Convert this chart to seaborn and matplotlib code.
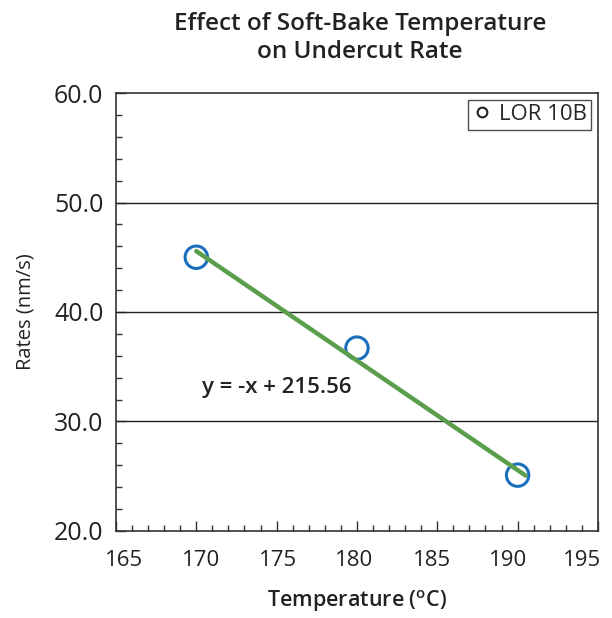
import matplotlib
matplotlib.use("Agg")
import matplotlib.pyplot as plt
import matplotlib.transforms as mtransforms
import seaborn as sns
import numpy as np
import pandas as pd
from matplotlib.ticker import MultipleLocator, FormatStrFormatter
from matplotlib.lines import Line2D

# Data
temperature = [170, 180, 190]
rates = [45.0, 36.7, 25.1]
series_name = "LOR 10B"
slope = -1.0
intercept = 215.56
trend_x = [170, 190.5]
trend_y = [slope * x + intercept for x in trend_x]
equation_label = "y = -x + 215.56"
x_ticks = [165, 170, 175, 180, 185, 190, 195]

sns.set_theme(style="white")
plt.rcParams['font.family'] = ['Open Sans', 'DejaVu Sans']
plt.rcParams['mathtext.default'] = 'regular'

fig = plt.figure(figsize=(6.12, 6.18), dpi=100)
ax = fig.add_axes([0.1895, 0.1408, 0.7875, 0.7087])

df = pd.DataFrame({"Temperature": temperature, "Rate": rates})
tdf = pd.DataFrame({"x": trend_x, "y": trend_y})

for y in [30, 40, 50]:
    ax.axhline(y, color="#222222", lw=1.0, zorder=1)

sns.scatterplot(data=df, x="Temperature", y="Rate", ax=ax, s=260,
                facecolor="none", edgecolor="#1a6fbd", linewidth=2.2, zorder=3, legend=False)
sns.lineplot(data=tdf, x="x", y="y", ax=ax, color="#5a9e4c", lw=3.2, zorder=4)

ax.set_xlim(165, 195)
ax.set_ylim(20, 60)
ax.set_xticks(x_ticks)
ax.xaxis.set_minor_locator(MultipleLocator(1))
ax.yaxis.set_major_locator(MultipleLocator(10))
ax.yaxis.set_minor_locator(MultipleLocator(2))
ax.yaxis.set_major_formatter(FormatStrFormatter("%.1f"))
ax.tick_params(which="both", direction="in", color="#333333", width=1.0,
               bottom=True, left=True, top=False, right=False)
ax.tick_params(which="major", length=7, colors="#333333", labelcolor="#222222")
ax.tick_params(axis="x", which="major", pad=14, labelsize=16)
ax.tick_params(axis="y", which="major", pad=9, labelsize=18)
ax.tick_params(which="minor", length=4)
for s in ax.spines.values():
    s.set_color("#333333")
    s.set_linewidth(1.2)

# slight horizontal shifts of x tick labels as in the reference rendering
label_shift_px = [8, 5, 1, -3, -5, -10, -16]
fig.canvas.draw()
for lab, dx in zip(ax.get_xticklabels(), label_shift_px):
    lab.set_transform(lab.get_transform() + mtransforms.ScaledTranslation(dx / 100, 0, fig.dpi_scale_trans))

ax.set_xlabel(r"Temperature ($^{o}$C)", fontsize=15.5, fontweight="semibold", color="#222222", labelpad=12)
ax.set_ylabel("Rates (nm/s)", fontsize=14.5, color="#222222", labelpad=13)

fig.suptitle("Effect of Soft-Bake Temperature\non Undercut Rate", x=0.588, y=0.98,
             fontsize=17.5, fontweight="semibold", color="#222222", linespacing=1.2)

ax.text(175.0, 33.1, equation_label, fontsize=16, fontweight="semibold", color="#222222", ha="center", va="center")

handle = Line2D([], [], marker="o", linestyle="none", markerfacecolor="none",
                markeredgecolor="#222222", markersize=7, markeredgewidth=1.5)
leg = ax.legend([handle], [series_name], loc="upper right", fontsize=16, frameon=True,
                fancybox=False, edgecolor="#222222", handletextpad=0.3, handlelength=0.9,
                borderpad=0.2, borderaxespad=0.3)
leg.get_frame().set_linewidth(1.0)

fig.savefig("out.png", dpi=100)
